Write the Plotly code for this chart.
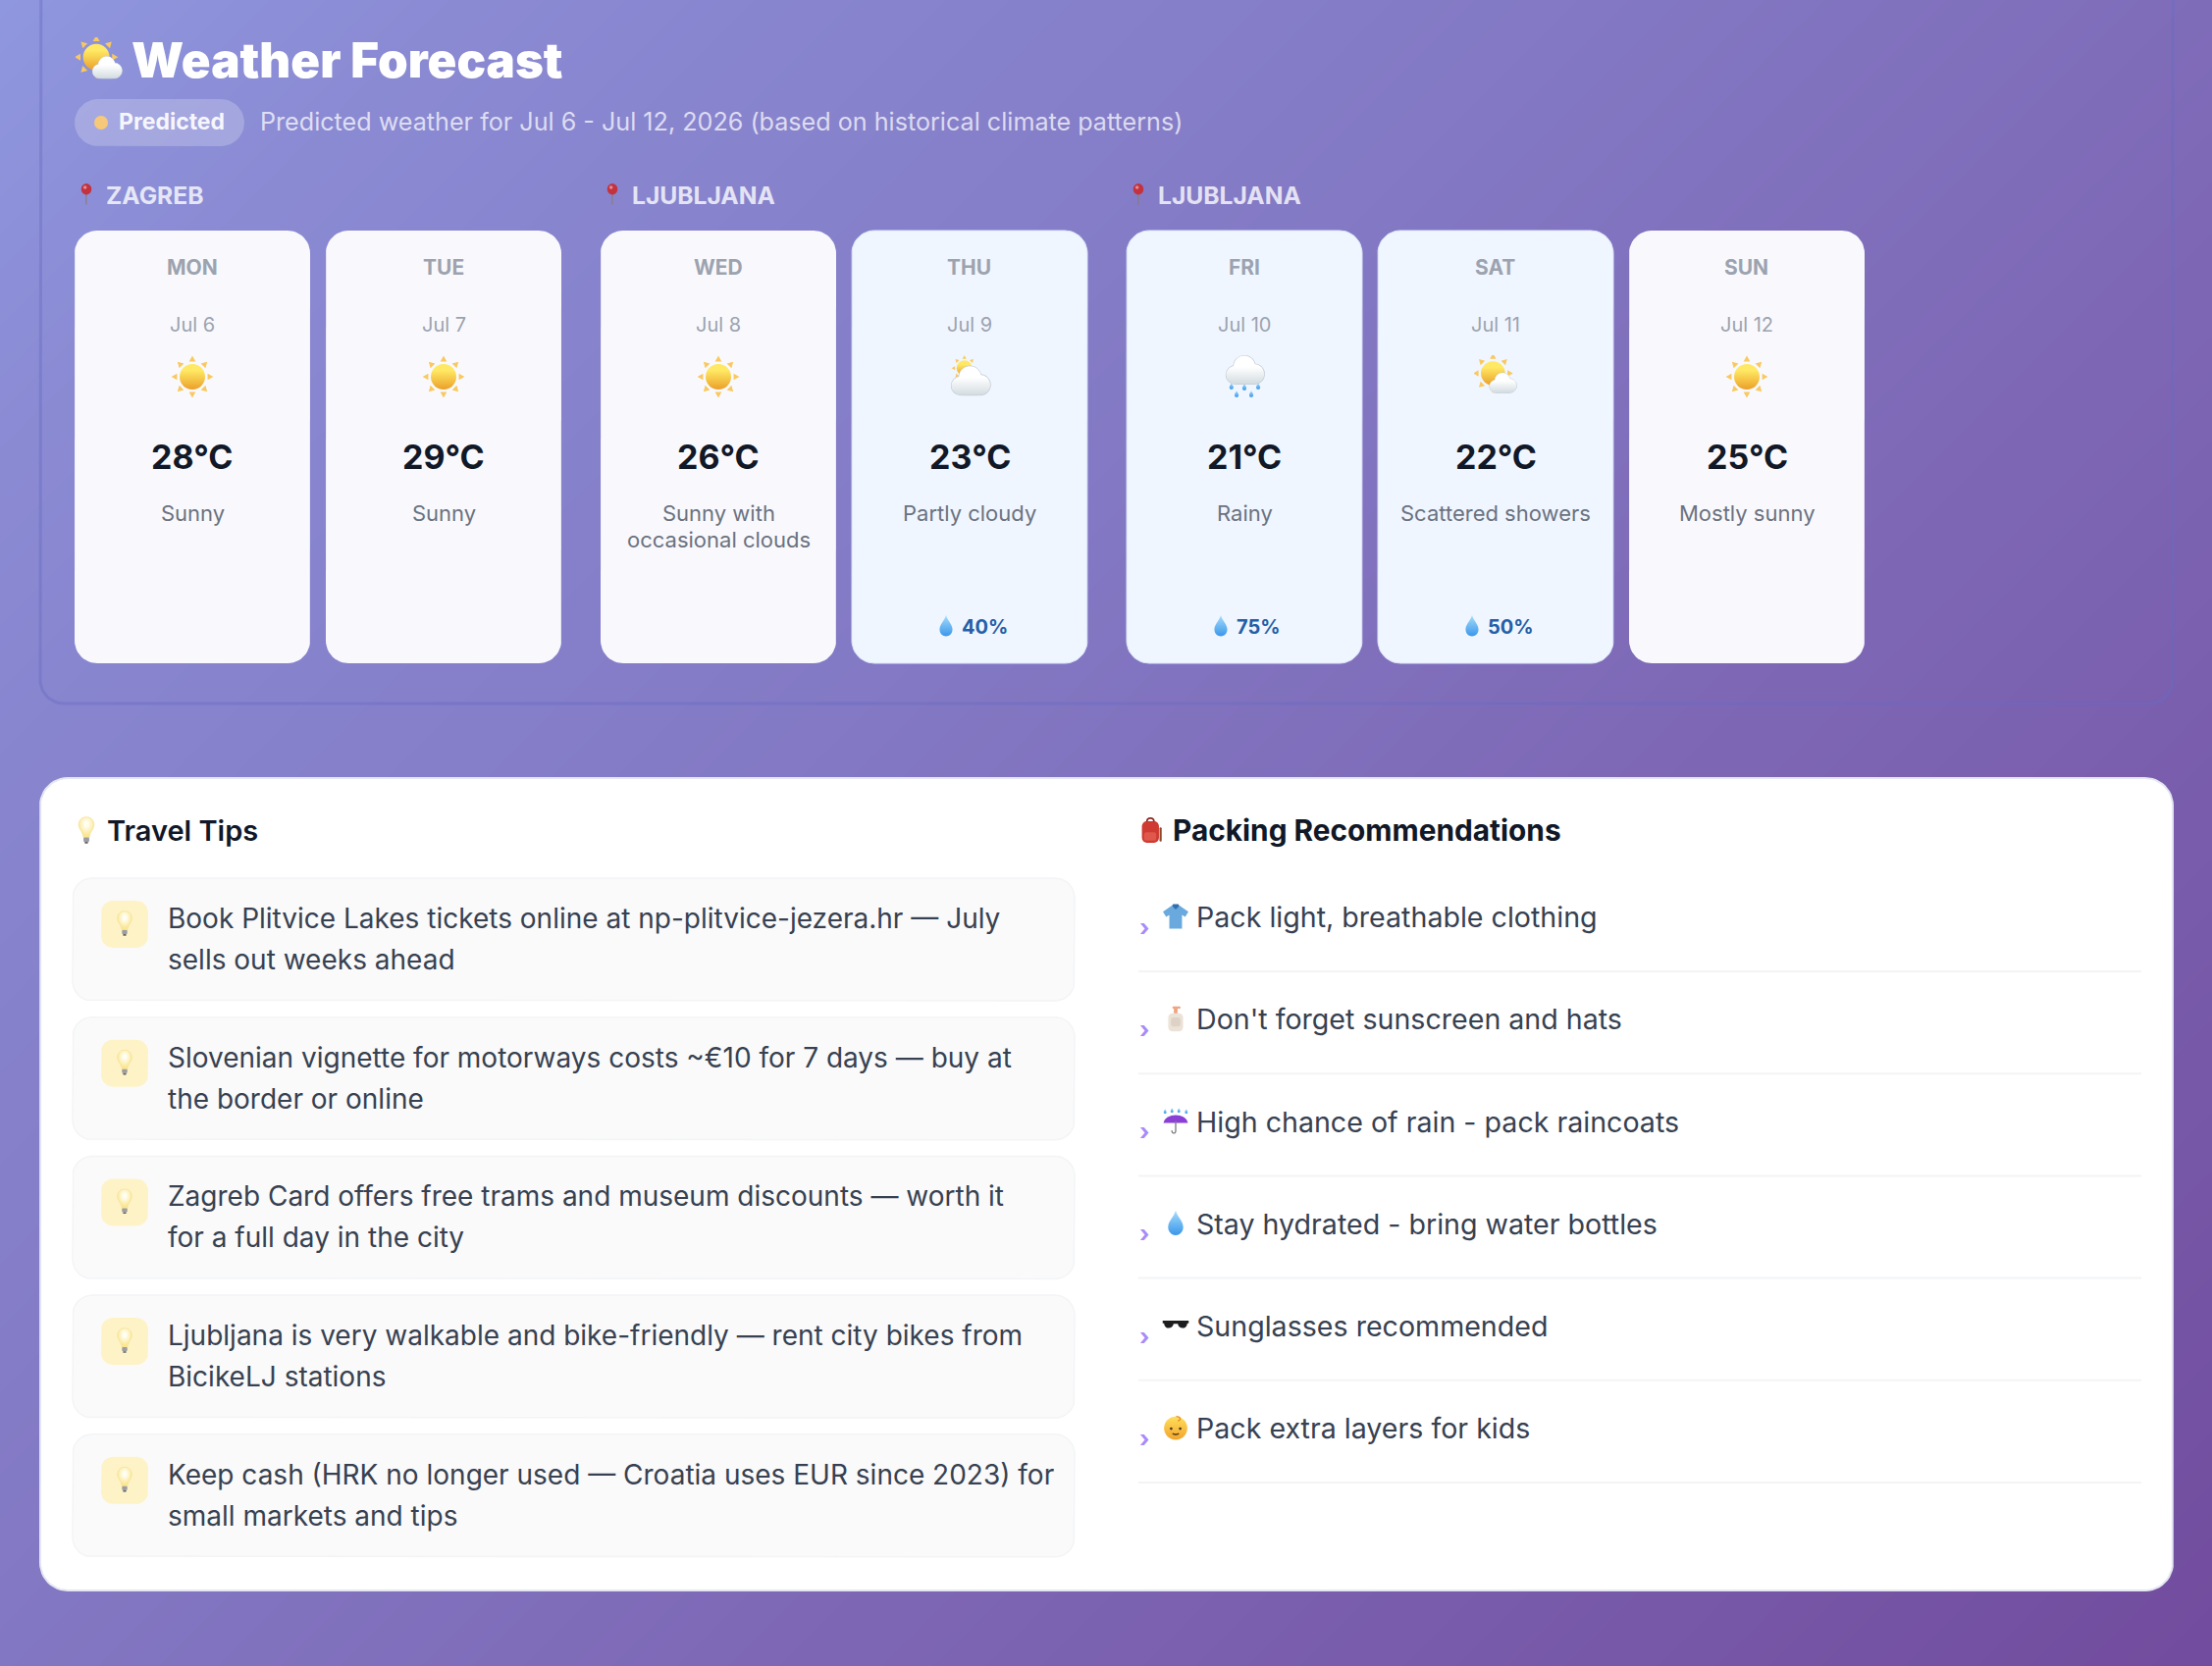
import base64
import math
import plotly.graph_objects as go

W = 2254
H = 1698
FONT = "Inter"

# weather cards
cities = ["ZAGREB", "LJUBLJANA", "LJUBLJANA"]
city_days = [2, 2, 3]
days = ["MON", "TUE", "WED", "THU", "FRI", "SAT", "SUN"]
dates = ["Jul 6", "Jul 7", "Jul 8", "Jul 9", "Jul 10", "Jul 11", "Jul 12"]
temps = [28, 29, 26, 23, 21, 22, 25]
conditions = [
    ["Sunny"],
    ["Sunny"],
    ["Sunny with", "occasional clouds"],
    ["Partly cloudy"],
    ["Rainy"],
    ["Scattered showers"],
    ["Mostly sunny"],
]
rain_chance = [None, None, None, 40, 75, 50, None]
day_icons = ["sun", "sun", "sun", "cloud_sun", "rain", "sun_cloud", "sun"]

# lower panel
tips = [
    ["Book Plitvice Lakes tickets online at np-plitvice-jezera.hr — July", "sells out weeks ahead"],
    ["Slovenian vignette for motorways costs ~€10 for 7 days — buy at", "the border or online"],
    ["Zagreb Card offers free trams and museum discounts — worth it", "for a full day in the city"],
    ["Ljubljana is very walkable and bike-friendly — rent city bikes from", "BicikeLJ stations"],
    ["Keep cash (HRK no longer used — Croatia uses EUR since 2023) for", "small markets and tips"],
]
packing = [
    "Pack light, breathable clothing",
    "Don't forget sunscreen and hats",
    "High chance of rain - pack raincoats",
    "Stay hydrated - bring water bottles",
    "Sunglasses recommended",
    "Pack extra layers for kids",
]
packing_icons = ["shirt", "lotion", "umbrella", "drop", "glasses", "baby"]

# page background colours along the diagonal
bg_stops = [
    [0.0, "#8f97de"],
    [0.12, "#8a8ad3"],
    [0.4, "#8379c4"],
    [0.65, "#7d66b4"],
    [1.0, "#724c9e"],
]


def rounded(x0, y0, x1, y1, r):
    # outline of a rounded box as points
    xs, ys = [], []
    corners = [(x1 - r, y0 + r, -90), (x1 - r, y1 - r, 0), (x0 + r, y1 - r, 90), (x0 + r, y0 + r, 180)]
    for cx, cy, start in corners:
        for i in range(13):
            a = math.radians(start + i * 7.5)
            xs.append(cx + r * math.cos(a))
            ys.append(cy + r * math.sin(a))
    xs.append(xs[0])
    ys.append(ys[0])
    return xs, ys


def sun(cx, cy, r):
    rays = ""
    for i in range(8):
        rays += (
            f'<polygon transform="rotate({i * 45} {cx} {cy})" fill="#f9c85f" '
            f'points="{cx - r * 0.26},{cy - r * 1.2} {cx + r * 0.26},{cy - r * 1.2} {cx},{cy - r * 1.65}"/>'
        )
    return rays + f'<circle cx="{cx}" cy="{cy}" r="{r}" fill="url(#sn)"/>'


def cloud(dx, dy, s):
    puffs = (
        '<circle cx="28" cy="62" r="22"/><circle cx="50" cy="42" r="26"/><circle cx="74" cy="60" r="24"/>'
        '<rect x="26" y="50" width="50" height="34" rx="8"/>'
    )
    return (
        f'<g transform="translate({dx} {dy}) scale({s})">'
        f'<g fill="#c3cdd5" stroke="#c3cdd5" stroke-width="3">{puffs}</g>'
        f'<g fill="url(#cl)">{puffs}</g></g>'
    )


def raindrop(cx, cy, s, fill="url(#dr)"):
    return (
        f'<path transform="translate({cx} {cy}) scale({s})" fill="{fill}" '
        'd="M0,-50 C6,-26 30,-8 30,16 C30,36 14,48 0,48 C-14,48 -30,36 -30,16 C-30,-8 -6,-26 0,-50 Z"/>'
    )


ICON_DEFS = (
    "<defs>"
    '<linearGradient id="sn" x1="0" y1="0" x2="0" y2="1"><stop offset="0.25" stop-color="#ffe964"/><stop offset="1" stop-color="#eb9f28"/></linearGradient>'
    '<linearGradient id="cl" gradientUnits="userSpaceOnUse" x1="0" y1="20" x2="0" y2="85"><stop offset="0.35" stop-color="#ffffff"/><stop offset="1" stop-color="#d2dbe0"/></linearGradient>'
    '<linearGradient id="dr" x1="0" y1="0" x2="0" y2="1"><stop offset="0" stop-color="#a6ddfc"/><stop offset="1" stop-color="#3a97ea"/></linearGradient>'
    '<radialGradient id="bl" cx="0.5" cy="0.35" r="0.55"><stop offset="0.2" stop-color="#fffef2"/><stop offset="1" stop-color="#fbe690"/></radialGradient>'
    '<linearGradient id="bb" x1="0" y1="0" x2="0" y2="1"><stop offset="0" stop-color="#ffdf5c"/><stop offset="1" stop-color="#f2a52b"/></linearGradient>'
    "</defs>"
)

ICONS = {
    "sun": sun(50, 50, 29.5),
    "sun_cloud": sun(44, 42, 28) + cloud(32, 30, 0.68),
    "cloud_sun": sun(38, 30, 18) + cloud(2, 10, 0.98),
    "rain": cloud(2, -14, 0.96)
    + raindrop(20, 72, 0.16) + raindrop(32, 90, 0.16) + raindrop(50, 74, 0.16) + raindrop(66, 90, 0.16) + raindrop(82, 72, 0.16),
    "pin": '<rect x="47" y="40" width="5" height="58" fill="#8a7a78"/>'
    '<ellipse cx="50" cy="26" rx="24" ry="26" fill="#c2333f"/><ellipse cx="44" cy="18" rx="8" ry="8" fill="#e58a8f"/>',
    "bulb": '<path d="M50,4 C72,4 80,24 76,38 C72,52 62,58 60,76 L40,76 C38,58 28,52 24,38 C20,24 28,4 50,4 Z" fill="url(#bl)" stroke="#f3dc8a" stroke-width="2"/>'
    '<rect x="40" y="76" width="20" height="15" rx="3" fill="#9b9da1"/><rect x="44" y="91" width="12" height="6" rx="2" fill="#5f6165"/>',
    "drop": raindrop(50, 50, 0.95),
    "backpack": '<rect x="20" y="18" width="62" height="78" rx="18" fill="#cf3b32"/>'
    '<path d="M38,20 C38,2 64,2 64,20" fill="none" stroke="#8f2a24" stroke-width="6"/>'
    '<rect x="28" y="58" width="44" height="30" rx="8" fill="#e0574c"/><rect x="84" y="40" width="8" height="52" rx="4" fill="#8f4a2a"/>',
    "shirt": '<path d="M34,10 L66,10 L98,32 L86,52 L74,44 L74,96 L26,96 L26,44 L14,52 L2,32 Z" fill="#6aa9dd"/>'
    '<path d="M36,10 L50,24 L64,10 L60,4 L40,4 Z" fill="#2f6fb0"/>',
    "lotion": '<rect x="22" y="30" width="56" height="68" rx="16" fill="#ece3d8"/>'
    '<rect x="32" y="46" width="36" height="34" rx="10" fill="#ddd2c5"/>'
    '<rect x="43" y="10" width="14" height="20" fill="#efa583"/><rect x="38" y="4" width="30" height="8" rx="3" fill="#efa583"/>',
    "umbrella": '<path d="M4,58 C10,18 90,18 96,58 Z" fill="#8a3fd6"/>'
    '<path d="M50,50 L50,88 C50,100 34,98 36,86" fill="none" stroke="#7d7d85" stroke-width="5"/>'
    + raindrop(10, 14, 0.18) + raindrop(36, 10, 0.18) + raindrop(62, 10, 0.18) + raindrop(90, 14, 0.18),
    "glasses": '<path d="M0,32 L100,32 L100,42 L94,42 C92,66 62,66 58,44 L42,44 C38,66 8,66 6,42 L0,42 Z" fill="#1d1d1f"/>',
    "baby": '<circle cx="50" cy="52" r="44" fill="url(#bb)"/>'
    '<circle cx="33" cy="54" r="5" fill="#4a3320"/><circle cx="67" cy="54" r="5" fill="#4a3320"/>'
    '<path d="M38,72 Q50,80 62,72" stroke="#4a3320" stroke-width="5" fill="none"/>'
    '<path d="M52,8 C70,8 72,24 58,24" stroke="#e0952a" stroke-width="5" fill="none"/>',
}


def icon_uri(name):
    svg = f'<svg xmlns="http://www.w3.org/2000/svg" viewBox="0 0 100 100">{ICON_DEFS}{ICONS[name]}</svg>'
    return "data:image/svg+xml;base64," + base64.b64encode(svg.encode()).decode()


fig = go.Figure()

# diagonal page gradient
fig.add_trace(go.Heatmap(
    x=[0, W], y=[0, H], z=[[0, W], [H, W + H]], zmin=0, zmax=W + H,
    colorscale=bg_stops, zsmooth="best", showscale=False, hoverinfo="skip",
))


def box(x0, y0, x1, y1, r, fill, line=None, width=0):
    xs, ys = rounded(x0, y0, x1, y1, r)
    fig.add_trace(go.Scatter(
        x=xs, y=ys, mode="lines", fill="toself", fillcolor=fill,
        line=dict(color=line or fill, width=width), hoverinfo="skip", showlegend=False,
    ))


def text(x, base, s, size, color, weight=400, anchor="left"):
    # y is given as baseline, annotations only anchor on the box
    fig.add_annotation(
        x=x, y=base - 0.36 * size, text=s, showarrow=False, xanchor=anchor, yanchor="middle",
        borderpad=0, font=dict(family=FONT, size=size, color=color, weight=weight),
    )


def icon(name, cx, cy, size):
    fig.add_layout_image(
        source=icon_uri(name), xref="x", yref="y", x=cx, y=cy, sizex=size, sizey=size,
        xanchor="center", yanchor="middle", sizing="contain", layer="above",
    )


# top panel
box(41, -40, 2214, 717, 24, "rgba(255,255,255,0)", "rgba(102,108,196,0.42)", 3)
icon("sun_cloud", 101, 62, 48)
text(133, 79, "Weather Forecast", 49.2, "#ffffff", 900)
box(76, 101, 249, 149, 24, "rgba(255,255,255,0.22)")
fig.add_shape(type="circle", x0=96, x1=110, y0=118, y1=132, fillcolor="#f6c97a", line_width=0)
text(119.5, 132, "Predicted", 23, "rgba(255,255,255,0.92)", 700)
text(263.5, 133, "Predicted weather for Jul 6 - Jul 12, 2026 (based on historical climate patterns)", 25.15, "rgba(255,255,255,0.72)")

# day cards
CARD_W = 240
left = 76
day = 0
for city, n in zip(cities, city_days):
    icon("pin", left + 12, 198, 22)
    text(left + 31, 208, city, 24.6, "rgba(255,255,255,0.8)", 700)
    for _ in range(n):
        rainy = rain_chance[day] is not None
        box(left, 235, left + CARD_W, 676, 23,
            "#f0f6ff" if rainy else "#f9f9fd", "#dbe6fb" if rainy else "#f9f9fd", 1 if rainy else 0)
        mid = left + CARD_W / 2
        text(mid - 0.5, 280, days[day], 21, "#9ca3af", 700, "center")
        text(mid, 338, dates[day], 20, "#9ca3af", 400, "center")
        icon(day_icons[day], mid, 384, 44)
        text(mid, 477.5, f"{temps[day]}°C", 34, "#111827", 700, "center")
        for k, line in enumerate(conditions[day]):
            text(mid, 531 + k * 27, line, 22, "#6b7280", 400, "center")
        if rainy:
            icon("drop", mid - 24, 638, 23)
            text(mid - 9, 646, f"{rain_chance[day]}%", 20, "#2360a8", 700)
        left += CARD_W + 16
        day += 1
    left += 24

# lower panel
box(41, 793, 2214, 1621, 28, "#ffffff", "#e4e7f2", 2)

icon("bulb", 88, 846, 29)
text(107.5, 857, "Travel Tips", 29, "#111827", 600)
for i, tip in enumerate(tips):
    top = 895 + i * 141.7
    box(74, top, 1095, top + 125, 20, "#fafafa", "#f3f4f6", 1.5)
    box(103, top + 23, 151, top + 71, 12, "#fef3c7")
    icon("bulb", 127, top + 46, 27)
    text(170, top + 51, tip[0], 28, "#374151")
    text(170, top + 93, tip[1], 28, "#374151")

icon("backpack", 1172, 846, 28)
text(1193.5, 857, "Packing Recommendations", 29.8, "#111827", 700)
for i, item in enumerate(packing):
    base = 945 + i * 104.2
    text(1160, base + 9, "›", 24, "#a78bfa", 700)
    icon(packing_icons[i], 1198, base - 11, 27)
    text(1218, base, item, 28.6, "#374151")
    fig.add_shape(type="line", x0=1160, x1=2182, y0=base + 45, y1=base + 45, line=dict(color="#f3f4f6", width=2))

fig.update_layout(
    width=W, height=H, margin=dict(l=0, r=0, t=0, b=0), autosize=False,
    paper_bgcolor="#7c62b2", plot_bgcolor="rgba(0,0,0,0)", showlegend=False,
    xaxis=dict(range=[0, W], visible=False, fixedrange=True),
    yaxis=dict(range=[H, 0], visible=False, fixedrange=True),
)

fig.write_html("out.html", config={"displayModeBar": False},
               post_script="document.body.style.margin='0';document.documentElement.style.overflow='hidden';")
